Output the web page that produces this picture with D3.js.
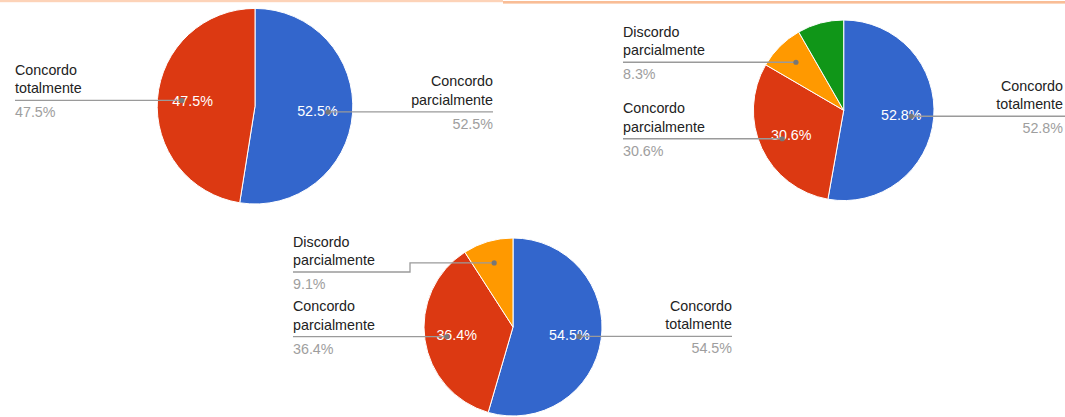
<!DOCTYPE html>
<html><head><meta charset="utf-8">
<script src="https://cdn.jsdelivr.net/npm/d3@7"></script>
<style>
html,body{margin:0;padding:0;background:#fff;}
svg{display:block;}
text{font-family:"Liberation Sans",Arial,sans-serif;font-size:14.3px;}
</style></head>
<body>
<svg id="c" width="1065" height="417"></svg>
<script>
// ---- data ----
const categories1 = ["Concordo parcialmente", "Concordo totalmente"];
const values1 = [52.5, 47.5];

const categories2 = ["Concordo totalmente", "Concordo parcialmente", "Discordo parcialmente", "Discordo totalmente"];
const values2 = [52.8, 30.6, 8.3, 8.3];

const categories3 = ["Concordo totalmente", "Concordo parcialmente", "Discordo parcialmente"];
const values3 = [54.5, 36.4, 9.1];

const sliceColors = ["#3366cc", "#dc3912", "#ff9900", "#109618"];

// ---- layout (positions only) ----
const charts = [
  { cats: categories1, vals: values1, cx: 255, cy: 106.2, r: 97.8,
    labels: [ {x: 493, anchor: "end"}, {x: 15, anchor: "start"} ] },
  { cats: categories2, vals: values2, cx: 843.7, cy: 110.3, r: 90.3,
    labels: [ {x: 1063, anchor: "end", lineEnd: 1066}, {x: 623, anchor: "start"}, {x: 623, anchor: "start"}, null ] },
  { cats: categories3, vals: values3, cx: 513, cy: 327, r: 89,
    labels: [ {x: 732, anchor: "end"}, {x: 293, anchor: "start"}, {x: 293, anchor: "start", lineY: 272, elbowX: 410} ] }
];

const svg = d3.select("#c");

// top accent bar
svg.append("rect").attr("x", 0).attr("y", 0).attr("width", 503).attr("height", 2.2).attr("fill", "#fdd3b8");
svg.append("rect").attr("x", 503).attr("y", 1).attr("width", 562).attr("height", 2.6).attr("fill", "#f9bd96");

const fmt = v => d3.format(".1f")(v) + "%";
const textW = (s) => {
  const t = svg.append("text").text(s);
  const w = t.node().getComputedTextLength();
  t.remove();
  return w;
};

charts.forEach(ch => {
  const total = d3.sum(ch.vals);
  const pie = d3.pie().sort(null).value(d => d)(ch.vals);
  const g = svg.append("g").attr("transform", `translate(${ch.cx},${ch.cy})`);
  const arc = d3.arc().innerRadius(0).outerRadius(ch.r);
  const inArc = d3.arc().innerRadius(ch.r * 0.64).outerRadius(ch.r * 0.64);
  const dotArc = d3.arc().innerRadius(ch.r * 0.75).outerRadius(ch.r * 0.75);

  g.selectAll("path.slice").data(pie).enter().append("path")
    .attr("class", "slice")
    .attr("d", arc)
    .attr("fill", (d, i) => sliceColors[i])
    .attr("stroke", "#fff").attr("stroke-width", 1);

  // inside percentage labels (only for large slices)
  g.selectAll("text.in").data(pie.filter(d => d.value / total > 0.15)).enter().append("text")
    .attr("class", "in")
    .attr("x", d => inArc.centroid(d)[0])
    .attr("y", d => inArc.centroid(d)[1] + 5)
    .attr("text-anchor", "middle")
    .attr("fill", "#fff")
    .text(d => fmt(d.value / total * 100));

  // outside labels with leader lines
  pie.forEach((d, i) => {
    const lab = ch.labels[i];
    if (!lab) return;
    const [dx, dy] = dotArc.centroid(d);
    const px = ch.cx + dx, py = ch.cy + dy;
    const L = lab.lineY !== undefined ? lab.lineY : py;
    const words = ch.cats[i].split(" ");
    const wMax = Math.max(...words.map(textW), textW(fmt(d.value / total * 100)));
    const start = lab.anchor === "start" ? lab.x : (lab.lineEnd || lab.x);
    let path;
    if (lab.elbowX !== undefined) {
      path = `M${start},${L}H${lab.elbowX}V${py}H${px}`;
    } else {
      path = `M${start},${L}H${px}`;
    }
    svg.append("path").attr("d", path).attr("fill", "none")
      .attr("stroke", "#9a9a9a").attr("stroke-width", 1.3);
    svg.append("circle").attr("cx", px).attr("cy", py).attr("r", 2.6).attr("fill", "#777");

    const t = svg.append("text").attr("text-anchor", lab.anchor).attr("fill", "#222");
    t.append("tspan").attr("x", lab.x).attr("y", L - 25.5).text(words[0]);
    t.append("tspan").attr("x", lab.x).attr("y", L - 7).text(words.slice(1).join(" "));
    svg.append("text").attr("text-anchor", lab.anchor).attr("fill", "#9e9e9e")
      .attr("x", lab.x).attr("y", L + 17).text(fmt(d.value / total * 100));
  });
});
</script>
</body></html>
